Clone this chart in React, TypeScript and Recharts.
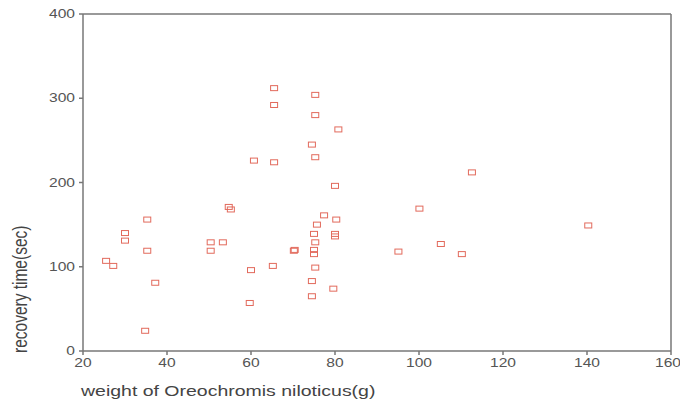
import React from 'react';
import { ScatterChart, Scatter, XAxis, YAxis, ReferenceLine } from 'recharts';

const weights = [25.5, 27.2, 30, 30, 35.3, 35.3, 37.2, 34.8,
  50.4, 53.3, 50.4, 54.7, 55.2, 59.7, 60, 60.7, 65.5, 65.5, 65.5, 65.2,
  70.2, 70.4, 74.5, 74.5, 74.5, 75, 75, 75, 75.3, 75.3, 75.3, 75.3, 75.3, 75.7, 77.4,
  79.6, 80, 80, 80, 80.3, 80.8,
  95.1, 100.1, 105.2, 110.2, 112.6, 140.3];
const recovery = [107, 101, 140, 131, 156, 119, 81, 24,
  129, 129, 119, 171, 168, 57, 96, 226, 312, 292, 224, 101,
  119, 120, 245, 83, 65, 139, 120, 115, 304, 280, 230, 129, 99, 150, 161,
  74, 196, 139, 136, 156, 263,
  118, 169, 127, 115, 212, 149];
const xTicks = [20, 40, 60, 80, 100, 120, 140, 160];
const yTicks = [0, 100, 200, 300, 400];

const data = weights.map((w, i) => ({ w, r: recovery[i] }));

const FONT = 'Liberation Sans, Arial, sans-serif';
const STRETCH = 1.3;

const Square = (props: any) => {
  const { cx, cy } = props;
  if (cx == null || cy == null) return null;
  return <rect x={cx - 3.5} y={cy - 2.5} width={7} height={5} fill="none" stroke="#e26a5c" strokeWidth={1} />;
};

const XTick = (props: any) => {
  const { x, y, payload } = props;
  return (
    <text transform={`translate(${x},${y + 10}) scale(${STRETCH},1)`} textAnchor="middle" fill="#555" fontSize={12} fontFamily={FONT}>
      {payload.value}
    </text>
  );
};

const YTick = (props: any) => {
  const { x, y, payload } = props;
  return (
    <text transform={`translate(${x - 2},${y + 4}) scale(${STRETCH},1)`} textAnchor="end" fill="#555" fontSize={12} fontFamily={FONT}>
      {payload.value}
    </text>
  );
};

const XLabel = (props: any) => {
  const vb = props.viewBox;
  return (
    <text transform={`translate(${vb.x - 2},${vb.y + 45}) scale(1.3,1)`} fill="#444" fontSize={15} fontFamily={FONT}>
      weight of Oreochromis niloticus(g)
    </text>
  );
};

const YLabel = (props: any) => {
  const vb = props.viewBox;
  const x = 20;
  const y = vb.y + vb.height + 2;
  return (
    <text transform={`translate(${x},${y}) scale(1.3,1) rotate(-90)`} fill="#444" fontSize={15.5} dominantBaseline="central" textAnchor="start" fontFamily={FONT}>
      recovery time(sec)
    </text>
  );
};

export default function App() {
  return (
    <div style={{ position: 'absolute', left: 0, top: 0, width: 680, height: 414, background: '#fff' }}>
      <ScatterChart width={680} height={414} margin={{ top: 14, right: 9, bottom: 0, left: 0 }}>
        <XAxis
          type="number"
          dataKey="w"
          domain={[20, 160]}
          ticks={xTicks}
          height={63}
          tick={<XTick />}
          tickSize={4}
          stroke="#777"
          strokeWidth={1.5}
          label={<XLabel />}
          allowDataOverflow
        />
        <YAxis
          type="number"
          dataKey="r"
          domain={[0, 400]}
          ticks={yTicks}
          width={83}
          tick={<YTick />}
          tickSize={4}
          stroke="#777"
          strokeWidth={1.5}
          label={<YLabel />}
          allowDataOverflow
        />
        <ReferenceLine y={400} stroke="#777" strokeWidth={1.5} />
        <ReferenceLine x={160} stroke="#777" strokeWidth={1.5} />
        <Scatter data={data} shape={<Square />} isAnimationActive={false} />
      </ScatterChart>
    </div>
  );
}
